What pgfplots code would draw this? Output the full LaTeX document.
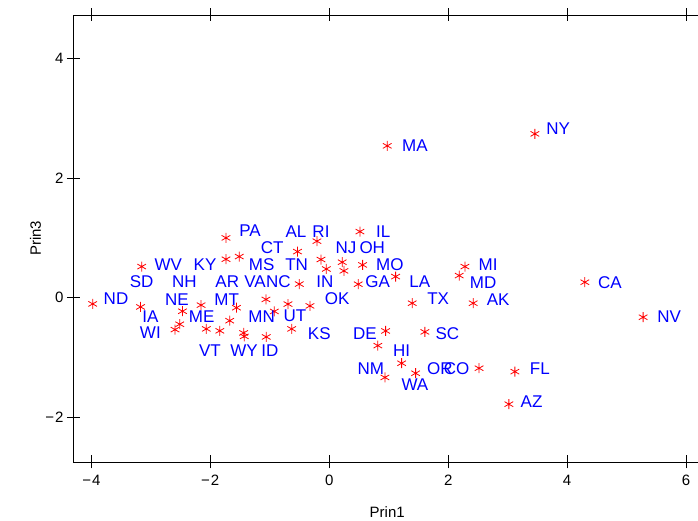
\documentclass[border=0pt]{standalone}
\usepackage{fontspec}
\setmainfont{Liberation Sans}
\usepackage{pgfplots}
\usepackage{pgfplotstable}
\pgfplotsset{compat=1.18}

% star positions (Prin1, Prin3)
\pgfplotstableread{
x y
-3.977 -0.102
-3.153 0.521
-3.173 -0.152
-2.467 -0.224
-2.514 -0.441
-2.593 -0.531
-2.155 -0.122
-2.067 -0.519
-1.840 -0.551
-1.736 1.000
-1.736 0.644
-1.513 0.688
-1.560 -0.165
-1.674 -0.382
-1.439 -0.586
-1.429 -0.644
0.516 1.105
-0.207 0.945
-0.534 0.771
-0.139 0.639
0.218 0.594
-0.049 0.481
0.247 0.449
0.561 0.549
1.116 0.354
2.185 0.371
-0.504 0.229
0.487 0.227
-1.064 -0.027
-0.694 -0.105
-0.324 -0.135
-0.924 -0.227
1.395 -0.090
-0.632 -0.519
-1.059 -0.653
0.948 -0.553
1.608 -0.569
0.817 -0.798
2.281 0.521
2.420 -0.090
4.297 0.260
5.277 -0.324
2.519 -1.175
3.121 -1.232
3.020 -1.775
1.217 -1.092
0.936 -1.329
1.452 -1.259
3.457 2.736
0.975 2.536
}\stars

% label positions
\pgfplotstableread{
x y lab
-3.585 -0.018 ND
-3.153 0.270 SD
-2.706 0.561 WV
-2.089 0.561 KY
-1.333 1.114 PA
-0.560 1.105 AL
-0.139 1.105 RI
0.908 1.105 IL
-0.958 0.838 CT
0.281 0.838 NJ
0.723 0.838 OH
-1.136 0.561 MS
-0.548 0.561 TN
1.020 0.561 MO
-2.437 0.270 NH
-1.714 0.270 AR
-1.249 0.270 VA
-0.857 0.270 NC
-0.072 0.270 IN
0.813 0.270 GA
1.524 0.270 LA
2.672 0.561 MI
2.588 0.260 MD
4.718 0.260 CA
-2.560 -0.023 NE
-1.724 -0.023 MT
0.134 -0.018 OK
1.832 -0.018 TX
2.840 -0.023 AK
5.714 -0.314 NV
-3.008 -0.307 IA
-2.145 -0.307 ME
-1.136 -0.307 MN
-0.576 -0.302 UT
-3.008 -0.586 WI
-0.168 -0.591 KS
0.600 -0.591 DE
1.987 -0.594 SC
-2.005 -0.875 VT
-1.434 -0.875 WY
-0.997 -0.878 ID
1.217 -0.886 HI
0.701 -1.175 NM
1.861 -1.175 OR
2.141 -1.175 CO
3.541 -1.175 FL
1.440 -1.454 WA
3.402 -1.738 AZ
3.849 2.831 NY
1.440 2.544 MA
}\labels

\begin{document}
\begin{tikzpicture}
\begin{axis}[
    scale only axis,
    width=627.5pt, height=447pt,
    xmin=-4.30, xmax=6.25,
    ymin=-2.74, ymax=4.72,
    xtick={-4,-2,0,2,4,6},
    xticklabels={−\kern1pt4,−\kern1pt2,0,2,4,6},
    ytick={-2,0,2,4},
    yticklabels={−\kern1pt2,0,2,4},
    xtick pos=both, ytick pos=left,
    tick align=center,
    major tick length=13pt,
    axis line style={line width=0.9pt},
    every tick/.style={black, line width=0.9pt},
    tick label style={font=\fontsize{15}{18}\selectfont},
    xticklabel style={yshift=-3pt},
    xlabel={Prin1}, ylabel={Prin3},
    every axis x label/.style={at={(axis description cs:0.5,0)}, anchor=center, yshift=-50pt, font=\fontsize{15}{18}\selectfont},
    every axis y label/.style={at={(axis description cs:-0.0606,0.5)}, anchor=center, rotate=90, font=\fontsize{15}{18}\selectfont},
  ]
  \addplot[only marks, mark=asterisk, mark size=5pt, red, mark options={line width=0.8pt}] table[x=x, y=y] {\stars};
  \addplot[only marks, mark=none, nodes near coords, point meta=explicit symbolic,
    every node near coord/.append style={anchor=center, inner sep=0pt, text=blue, font=\fontsize{17}{20}\selectfont}]
    table[x=x, y=y, meta=lab] {\labels};
  \coordinate (tr) at (axis cs:6.2,4.72);
\end{axis}
\pgfresetboundingbox
\path[use as bounding box] ([xshift=-73.5pt,yshift=-59pt]current axis.south west) rectangle ([yshift=15pt]tr);
\end{tikzpicture}
\end{document}
